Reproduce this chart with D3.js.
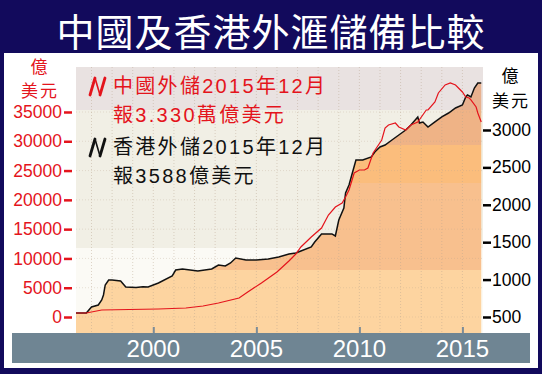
<!DOCTYPE html>
<html>
<head>
<meta charset="utf-8">
<script src="https://cdn.jsdelivr.net/npm/d3@7"></script>
<style>
  body { margin: 0; background: #fff; }
  svg { display: block; }
</style>
</head>
<body>
<svg id="chart" width="542" height="374"></svg>
<script>
// Hong Kong reserves (億美元, right axis)
const hkMonths = ["1996-04","1996-10","1997-01","1997-05","1997-07","1997-08","1997-09","1997-11","1998-01","1998-06","1998-09","1999-03","1999-07","1999-10",
  "2000-04","2000-12","2001-02","2001-06","2002-03","2002-11","2003-03","2003-07","2003-10","2004-01","2004-07","2005-01","2005-08","2006-02","2006-08","2006-12",
  "2007-03","2007-09","2007-11","2008-03","2008-09","2008-11","2009-01","2009-04","2009-05","2009-07","2009-11","2010-03","2010-08","2010-10","2011-01","2011-04",
  "2011-08","2011-12","2012-04","2012-07","2012-11","2012-12","2013-02","2013-05","2013-09","2014-01","2014-05","2014-09","2015-01","2015-03","2015-04","2015-06",
  "2015-08","2015-10","2015-12"];
const hkValues = [553,553,634,660,727,794,928,995,995,981,901,895,905,901,
  955,1048,1128,1142,1115,1142,1195,1182,1222,1289,1262,1262,1275,1302,1342,1356,
  1382,1436,1503,1610,1610,1583,1797,1957,2158,2265,2599,2599,2639,2706,2773,2799,
  2866,2933,3000,3067,3174,3094,3107,3040,3107,3174,3227,3294,3334,3441,3468,3441,
  3561,3628,3628];

// China reserves (億美元, left axis)
const cnMonths = ["1996-04","1996-10","1997-07","1998-11","2000-04","2001-08","2002-06","2003-03","2004-03","2004-08","2005-04","2006-01","2006-08","2006-12",
  "2007-03","2007-09","2008-03","2008-07","2008-11","2009-03","2009-05","2009-07","2009-10","2010-01","2010-04","2010-06","2010-09","2011-02","2011-04","2011-06",
  "2011-10","2011-12","2012-04","2012-07","2012-11","2013-04","2013-05","2013-09","2013-11","2014-03","2014-06","2014-09","2015-01","2015-03","2015-05","2015-06",
  "2015-09","2015-10","2015-12"];
const cnValues = [683,683,1195,1280,1366,1537,1878,2390,3244,4268,5805,7683,9561,10756,
  11952,13659,15195,17415,18781,19464,20488,21683,24586,25098,25098,25440,28001,30220,32269,32781,
  33122,32440,31927,32781,33293,35342,35342,36708,38245,39611,39952,39611,38416,37562,37391,37050,
  35855,34830,33293];

const leftTicks = [0,5000,10000,15000,20000,25000,30000,35000];
const rightTicks = [500,1000,1500,2000,2500,3000];
const yearTicks = [2000,2005,2010,2015];

const title = "中國及香港外滙儲備比較";
const unitLines = ["億", "美元"];
const legendCn = ["中國外儲2015年12月", "報3.330萬億美元"];
const legendHk = ["香港外儲2015年12月", "報3588億美元"];

const navy = "#120a5c", red = "#e4141c";
const latin = "'Liberation Sans', Arial, sans-serif";
const cjk = "'Noto Sans CJK TC', 'Noto Sans CJK SC', sans-serif";
const mixed = "'Liberation Sans', 'Noto Sans CJK TC', sans-serif";

const svg = d3.select("#chart");
const parse = d3.timeParse("%Y-%m");
const plot = {left: 76, right: 483, top: 67, bottom: 333};

// frame
svg.append("rect").attr("width", 542).attr("height", 374).attr("fill", navy);
svg.append("rect").attr("x", 4).attr("y", 53).attr("width", 534).attr("height", 315).attr("fill", "#fff");

svg.append("text")
    .attr("x", 271).attr("y", 46)
    .attr("text-anchor", "middle")
    .attr("font-family", cjk).attr("font-size", 38)
    .attr("letter-spacing", 1)
    .attr("fill", "#fff")
    .text(title);

const x = d3.scaleTime()
    .domain([parse("1996-04"), parse("2016-01")])
    .range([plot.left, plot.right]);
const yL = d3.scaleLinear().domain([-2730, 42680]).range([plot.bottom, plot.top]);
const yR = d3.scaleLinear().domain([286, 3842]).range([plot.bottom, plot.top]);

// colour bands (pixel offsets from plot top): background / under-curve fill
const bands = [
  {y0: 0,   y1: 43,  bg: "#e9e2e1", fill: "#e8b18f"},
  {y0: 43,  y1: 78,  bg: "#f1efe5", fill: "#efb386"},
  {y0: 78,  y1: 116, bg: "#f1efe5", fill: "#fbbd7c"},
  {y0: 116, y1: 181, bg: "#f1efe5", fill: "#f8c08e"},
  {y0: 181, y1: 203, bg: "#fbfaf5", fill: "#f8c08e"},
  {y0: 203, y1: 266, bg: "#fbfaf5", fill: "#fdd4a0"}
];

const defs = svg.append("defs");
defs.append("clipPath").attr("id", "plotClip")
  .append("rect").attr("x", plot.left).attr("y", plot.top)
  .attr("width", plot.right - plot.left).attr("height", plot.bottom - plot.top);

const hk = hkMonths.map((m, i) => ({date: parse(m), value: hkValues[i]}));
const cn = cnMonths.map((m, i) => ({date: parse(m), value: cnValues[i]}));

const area = d3.area()
    .x(d => x(d.date))
    .y0(plot.bottom)
    .y1(d => yR(d.value));

defs.append("clipPath").attr("id", "areaClip")
  .append("path").attr("d", area(hk));

const g = svg.append("g").attr("clip-path", "url(#plotClip)");

g.selectAll("rect.bg").data(bands).enter().append("rect")
    .attr("class", "bg")
    .attr("x", plot.left).attr("width", plot.right - plot.left)
    .attr("y", d => plot.top + d.y0).attr("height", d => d.y1 - d.y0)
    .attr("fill", d => d.bg);

g.append("g").attr("clip-path", "url(#areaClip)")
  .selectAll("rect").data(bands).enter().append("rect")
    .attr("x", plot.left).attr("width", plot.right - plot.left)
    .attr("y", d => plot.top + d.y0).attr("height", d => d.y1 - d.y0)
    .attr("fill", d => d.fill);

// faint dotted grid
g.selectAll("line.vg").data(d3.range(1997, 2016)).enter().append("line")
    .attr("x1", d => x(new Date(d, 0, 1))).attr("x2", d => x(new Date(d, 0, 1)))
    .attr("y1", plot.top).attr("y2", plot.bottom)
    .attr("stroke", "#b9a48e").attr("stroke-opacity", 0.45)
    .attr("stroke-dasharray", "1,2");
g.selectAll("line.hg").data(leftTicks).enter().append("line")
    .attr("x1", plot.left).attr("x2", plot.right)
    .attr("y1", d => yL(d)).attr("y2", d => yL(d))
    .attr("stroke", "#b9a48e").attr("stroke-opacity", 0.3)
    .attr("stroke-dasharray", "1,2");

const line = yScale => d3.line().x(d => x(d.date)).y(d => yScale(d.value));

g.append("path").datum(hk)
    .attr("d", line(yR))
    .attr("fill", "none").attr("stroke", "#111").attr("stroke-width", 1.5);
g.append("path").datum(cn)
    .attr("d", line(yL))
    .attr("fill", "none").attr("stroke", red).attr("stroke-width", 1.2);

// x axis band
svg.append("rect").attr("x", 12).attr("y", plot.bottom).attr("width", 518).attr("height", 30)
    .attr("fill", "#6f8593");
const xAxis = svg.append("g")
    .attr("transform", `translate(0,${plot.bottom})`)
    .call(d3.axisTop(x).tickValues(yearTicks.map(yr => new Date(yr, 0, 1)))
        .tickSize(6).tickFormat(""));
xAxis.select(".domain").remove();
xAxis.selectAll("line").attr("stroke", "#7c8c98").attr("stroke-width", 2);
svg.selectAll("text.yr").data(yearTicks).enter().append("text")
    .attr("class", "yr")
    .attr("x", d => x(new Date(d, 0, 1)))
    .attr("y", 357)
    .attr("text-anchor", "middle")
    .attr("font-family", latin).attr("font-size", 24)
    .attr("fill", "#fff")
    .text(d => d);

// left axis (China)
const leftAxis = svg.append("g")
    .attr("transform", "translate(72,0)")
    .call(d3.axisLeft(yL).tickValues(leftTicks).tickSize(8).tickPadding(2).tickFormat(d3.format("d")));
leftAxis.select(".domain").remove();
leftAxis.selectAll("line").attr("stroke", red).attr("stroke-width", 2.5);
leftAxis.selectAll("text")
    .attr("fill", red).attr("font-family", latin).attr("font-size", 17.5);

// right axis (Hong Kong)
const rightAxis = svg.append("g")
    .attr("transform", `translate(${plot.right},0)`)
    .call(d3.axisRight(yR).tickValues(rightTicks).tickSize(8).tickPadding(1).tickFormat(d3.format("d")));
rightAxis.select(".domain").remove();
rightAxis.selectAll("line").attr("stroke", "#000").attr("stroke-width", 2.5);
rightAxis.selectAll("text")
    .attr("fill", "#000").attr("font-family", latin).attr("font-size", 17.5);

// multi-line text block (one <text>, one <tspan> per line)
function block(x0, y0, lines, opts) {
  const t = svg.append("text")
      .attr("x", x0).attr("y", y0)
      .attr("text-anchor", opts.anchor || "start")
      .attr("font-family", opts.font || cjk).attr("font-size", opts.size)
      .attr("fill", opts.color);
  lines.forEach((s, i) => {
    t.append("tspan")
        .attr("x", x0)
        .attr("dy", i === 0 ? 0 : opts.lead)
        .attr("letter-spacing", opts.spacing || 0)
        .text(s);
  });
}

// units
block(40, 72.5, unitLines, {size: 17, color: red, lead: 24.8, anchor: "middle", spacing: 2});
block(511, 82, unitLines, {size: 17, color: "#000", lead: 24.8, anchor: "middle", spacing: 2});

// legend marker: italic "N" with heavy uprights and a thin diagonal
function marker(y, color) {
  svg.append("path")
      .attr("d", `M90,${y + 1} L95,${y - 16} M100,${y + 1} L105,${y - 16}`)
      .attr("stroke", color).attr("stroke-width", 2.8).attr("stroke-linecap", "round");
  svg.append("path")
      .attr("d", `M95,${y - 16} L100,${y + 1}`)
      .attr("stroke", color).attr("stroke-width", 1.6);
}

marker(94, red);
block(113, 93, legendCn, {size: 20, color: red, lead: 29.2, spacing: 2.3, font: mixed});
marker(155, "#111");
block(113, 154, legendHk, {size: 20, color: "#111", lead: 29.2, spacing: 2.3, font: mixed});
</script>
</body>
</html>
